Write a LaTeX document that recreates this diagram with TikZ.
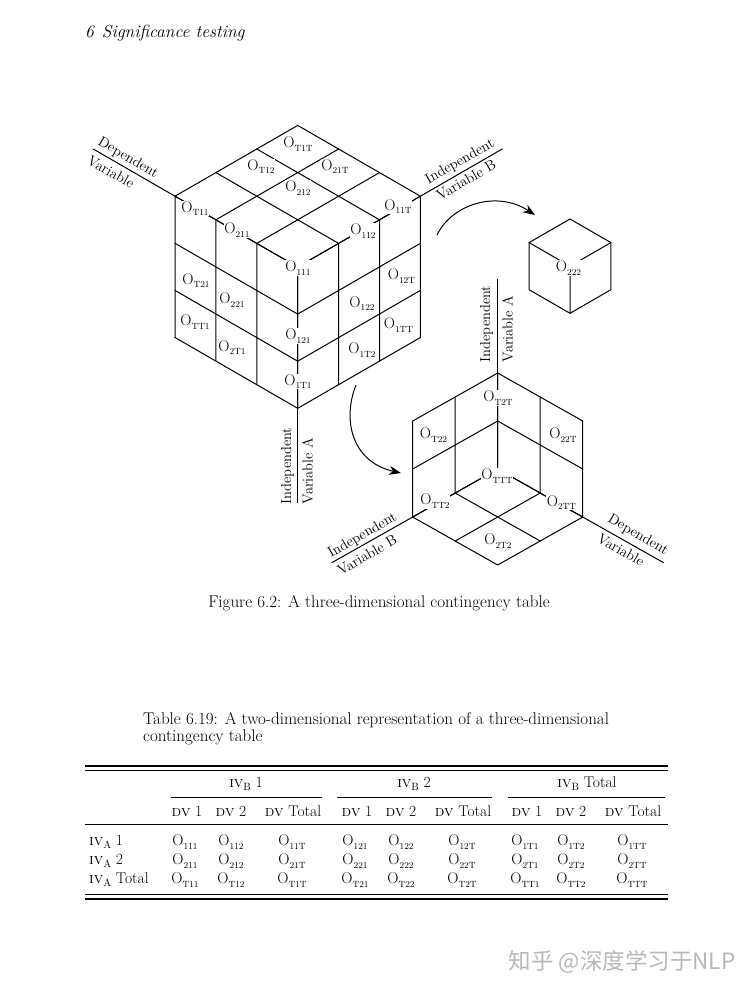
\documentclass[tikz,border=0pt]{standalone}
\usepackage{tikz}
\usepackage{fontspec}
\newfontfamily\cjkfont{Noto Sans CJK SC}
\usetikzlibrary{arrows.meta}

% cell count O with a lowered index
\newcommand{\Obs}[1]{O\raisebox{-3.5pt}{\fontsize{9}{9}\selectfont #1}}
\newcommand{\IVsub}[1]{\textsc{iv}\raisebox{-3pt}{\fontsize{10.5}{10.5}\selectfont #1}}

\begin{document}
\begin{tikzpicture}[x=1pt, y=-1pt, >=Stealth,
    grid/.style={line width=1pt, line cap=round},
    obs/.style={fill=white, inner sep=0.8pt, font=\fontsize{15.5}{16}\selectfont},
    axtext/.style={inner sep=0pt, font=\fontsize{14.5}{15}\selectfont},
    bend arrow/.style={line width=1pt, -{Stealth[length=12pt,width=9pt]}},
    tabtext/.style={inner sep=0pt, font=\fontsize{15.5}{16}\selectfont},
    captext/.style={inner sep=0pt, font=\fontsize{17}{20}\selectfont},
    rule/.style={line width=1.2pt}]

    % Page
    \path[use as bounding box, fill=white] (0,0) rectangle (748,994);

    % Running head
    \node[anchor=base west, inner sep=0pt, font=\fontsize{17.5}{20}\selectfont\itshape] (head) at (85,37) {6\hspace{8pt}Significance testing};

    % Main cube, origin at its bottom corner
    \begin{scope}[shift={(297.7,408.3)}, x={(-40.9pt,23.6pt)}, y={(40.9pt,23.6pt)}, z={(0pt,47.1pt)}]
        \foreach \i in {0,...,3} {
            \draw[grid] (\i,0,3) -- (\i,3,3) (0,\i,3) -- (3,\i,3);   % top face
            \draw[grid] (\i,0,0) -- (\i,0,3) (0,0,\i) -- (3,0,\i);   % left face
            \draw[grid] (0,\i,0) -- (0,\i,3) (0,0,\i) -- (0,3,\i);   % right face
        }
        \coordinate (mainL) at (3,0,3);
        \coordinate (mainR) at (0,3,3);
        \coordinate (mainB) at (0,0,0);
        \coordinate (mainLend) at (5,0,3);
        \coordinate (mainRend) at (0,5,3);
        \coordinate (mainBend) at (0,0,-2);
    \end{scope}

    % Main cube axes
    \draw[grid] (mainLend) -- (mainL);
    \draw[grid] (mainR) -- (mainRend);
    \draw[grid] (mainB) -- (mainBend);
    \node[axtext, rotate=-30] (mainDV) at (128,158) {Dependent};
    \node[axtext, rotate=-30] (mainDVb) at (111,172) {Variable};
    \node[axtext, rotate=30] (mainIVB) at (460,162) {Independent};
    \node[axtext, rotate=30] (mainIVBb) at (466,180) {Variable B};
    \node[axtext, rotate=90] (mainIVA) at (287.5,466) {Independent};
    \node[axtext, rotate=90] (mainIVAb) at (307.5,471) {Variable A};

    % Main cube counts
    \node[obs] (oT1T) at (298,144) {\Obs{T1T}};
    \node[obs] (oT12) at (261,166.5) {\Obs{T12}};
    \node[obs] (o21T) at (335,166.5) {\Obs{21T}};
    \node[obs] (o212) at (298,188) {\Obs{212}};
    \node[obs] (oT11) at (195,208.5) {\Obs{T11}};
    \node[obs] (o211) at (237,230) {\Obs{211}};
    \node[obs] (o111) at (298,268) {\Obs{111}};
    \node[obs] (o112) at (363,231) {\Obs{112}};
    \node[obs] (o11T) at (398,206.5) {\Obs{11T}};
    \node[obs] (oT21) at (196,280.5) {\Obs{T21}};
    \node[obs] (o221) at (232,300) {\Obs{221}};
    \node[obs] (oTT1) at (195,322) {\Obs{TT1}};
    \node[obs] (o2T1) at (232,347.5) {\Obs{2T1}};
    \node[obs] (o121) at (298,336) {\Obs{121}};
    \node[obs] (o1T1) at (298,381.5) {\Obs{1T1}};
    \node[obs] (o122) at (362,303.5) {\Obs{122}};
    \node[obs] (o12T) at (401.5,276) {\Obs{12T}};
    \node[obs] (o1TT) at (398.5,325) {\Obs{1TT}};
    \node[obs] (o1T2) at (362,350) {\Obs{1T2}};

    % Single cell, cut out of the cube
    \begin{scope}[shift={(570,313.3)}, x={(-40.9pt,23.6pt)}, y={(40.9pt,23.6pt)}, z={(0pt,47.1pt)}]
        \draw[grid] (1,0,0) -- (1,0,1) -- (1,1,1) -- (0,1,1) -- (0,1,0) -- (0,0,0) -- cycle;
        \draw[grid] (1,0,1) -- (0,0,1) -- (0,1,1) (0,0,1) -- (0,0,0);
    \end{scope}
    \node[obs] (o222) at (568.5,268) {\Obs{222}};

    % Cube of totals, seen from inside, origin at its bottom corner
    \begin{scope}[shift={(497.7,565)}, x={(-42.5pt,24pt)}, y={(42.5pt,24pt)}, z={(0pt,48pt)}]
        \foreach \i in {0,1,2} {
            \draw[grid] (2,\i,0) -- (2,\i,2) (2,0,\i) -- (2,2,\i);   % back left wall
            \draw[grid] (\i,2,0) -- (\i,2,2) (0,2,\i) -- (2,2,\i);   % back right wall
            \draw[grid] (\i,0,0) -- (\i,2,0) (0,\i,0) -- (2,\i,0);   % floor
        }
        \coordinate (totTop) at (2,2,2);
        \coordinate (totL) at (2,0,0);
        \coordinate (totR) at (0,2,0);
        \coordinate (totTopend) at (2,2,3.95);
        \coordinate (totLend) at (2,-1.9,0);
        \coordinate (totRend) at (-1.9,2,0);
    \end{scope}

    % Totals cube axes
    \draw[grid] (totTopend) -- (totTop);
    \draw[grid] (totL) -- (totLend);
    \draw[grid] (totR) -- (totRend);
    \node[axtext, rotate=90] (totIVA) at (486.5,324) {Independent};
    \node[axtext, rotate=90] (totIVAb) at (507.5,329) {Variable A};
    \node[axtext, rotate=30] (totIVB) at (362.5,535.5) {Independent};
    \node[axtext, rotate=30] (totIVBb) at (367,555) {Variable B};
    \node[axtext, rotate=-30] (totDV) at (638,535) {Dependent};
    \node[axtext, rotate=-30] (totDVb) at (621,550) {Variable};

    % Totals cube counts
    \node[obs] (oT2T) at (498,398) {\Obs{T2T}};
    \node[obs] (oT22) at (433.5,435) {\Obs{T22}};
    \node[obs] (o22T) at (563,435) {\Obs{22T}};
    \node[obs] (oTTT) at (497,476) {\Obs{TTT}};
    \node[obs] (oTT2) at (435,501) {\Obs{TT2}};
    \node[obs] (o2TT) at (561.5,502.5) {\Obs{2TT}};
    \node[obs] (o2T2) at (498,541) {\Obs{2T2}};

    % Arrows between the cubes
    \coordinate (cutFrom) at (437,235);
    \coordinate (cutTo) at (535,215);
    \coordinate (sumFrom) at (356,385);
    \coordinate (sumTo) at (401,473);
    \draw[bend arrow] (cutFrom) .. controls (452,204) and (497,190) .. (cutTo);
    \draw[bend arrow] (sumFrom) .. controls (342,420) and (352,462) .. (sumTo);

    % Figure caption
    \node[captext] (figcap) at (379,603) {Figure 6.2: A three-dimensional contingency table};

    % Table caption
    \node[captext, anchor=west] (tabcap) at (143,720) {Table 6.19: A two-dimensional representation of a three-dimensional};
    \node[captext, anchor=west] (tabcapb) at (143,737) {contingency table};

    % Table rules
    \draw[rule] (85,766) -- (668,766) (85,770.5) -- (668,770.5);
    \draw[line width=0.8pt] (171,797) -- (322,797) (337,797) -- (492,797) (508,797) -- (665,797);
    \draw[line width=0.9pt] (85,824) -- (668,824);
    \draw[rule] (85,894.5) -- (668,894.5) (85,899) -- (668,899);

    % Table header
    \node[tabtext] (hB1) at (246,784) {\IVsub{B} 1};
    \node[tabtext] (hB2) at (414,784) {\IVsub{B} 2};
    \node[tabtext] (hBT) at (587,784) {\IVsub{B} Total};
    \foreach \g in {0,1,2} {
        \node[tabtext] (dvA\g) at (187+\g*170,811) {\textsc{dv} 1};
        \node[tabtext] (dvB\g) at (231+\g*170,811) {\textsc{dv} 2};
        \node[tabtext] (dvT\g) at (293+\g*170,811) {\textsc{dv} Total};
    }

    % Table body
    \foreach \a/\ya/\alab in {1/842/1, 2/861/2, T/880/Total} {
        \node[tabtext, anchor=west] (row\a) at (89,\ya) {\IVsub{A} \alab};
        \foreach \b/\g in {1/0, 2/1, T/2} {
            \foreach \d/\dx in {1/185, 2/231, T/292} {
                \node[tabtext] (t\a\b\d) at (\dx+\g*170,\ya) {\Obs{\a\b\d}};
            }
        }
    }

    % Watermark
    \node[inner sep=0pt, text=black!28, font=\cjkfont\fontsize{22.5}{24}\selectfont] (mark) at (622,962) {知乎 @深度学习于NLP};
\end{tikzpicture}
\end{document}
